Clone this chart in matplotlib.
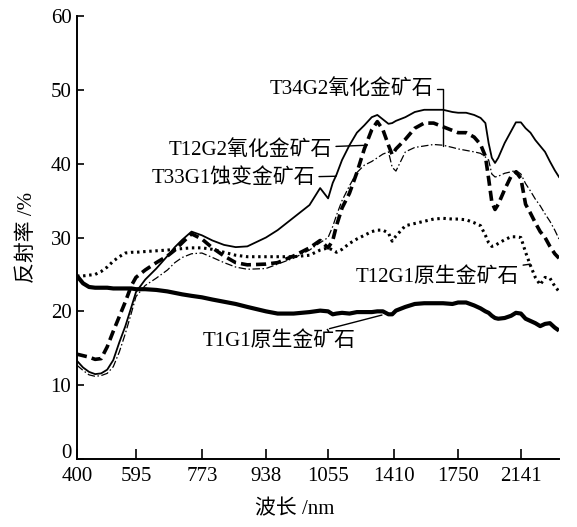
#!/usr/bin/env python3
# -*- coding: utf-8 -*-

import numpy as np
import matplotlib
matplotlib.use("Agg")
import matplotlib.pyplot as plt
import matplotlib.transforms as mtransforms

# wavelength grid (nm) shared by every curve
wavelength = [400, 420, 440, 460, 480, 500, 520, 540, 560, 580, 595,
              620, 650, 680, 700, 720, 745, 773,
              800, 830, 860, 890, 938,
              960, 990, 1020, 1040, 1055,
              1080, 1100, 1130, 1170, 1210, 1250, 1290, 1320, 1350, 1380, 1400,
              1420,
              1470, 1520, 1570, 1620, 1670, 1720, 1750,
              1800, 1850, 1890, 1920, 1940, 1960, 1980, 2000, 2040, 2080, 2110, 2141,
              2170, 2200, 2230, 2260, 2290, 2320, 2350, 2376]

# reflectance (%)
t33g1 = [13.3, 12.4, 11.8, 11.5, 11.6, 12.1, 13.4, 15.8, 18.0, 20.6, 22.6,
         24.3, 25.8, 27.5, 28.7, 29.7, 30.8, 30.3,
         29.6, 29.0, 28.7, 28.8, 30.0,
         31.0, 32.7, 34.4, 36.7, 35.3,
         37.4, 38.5, 40.5, 42.5, 44.2, 45.2, 46.3, 46.6, 46.0, 45.4, 45.5,
         45.8,
         46.3, 47.0, 47.3, 47.3, 47.3, 47.0, 46.9,
         46.9, 46.6, 46.2, 45.5, 42.8, 40.8, 40.1, 40.8, 42.8, 44.4, 45.6, 45.6,
         44.8, 44.2, 43.2, 42.4, 41.6, 40.3, 39.1, 38.2]

t12g2 = [14.2, 14.0, 13.8, 13.5, 13.6, 15.2, 17.3, 19.3, 21.3, 23.5, 24.6,
         25.6, 26.6, 27.5, 28.3, 29.3, 30.5, 29.8,
         28.6, 27.5, 26.6, 26.3, 26.4,
         26.6, 27.5, 28.6, 29.6, 28.6,
         29.6, 31.6, 34.0, 36.0, 38.8, 42.0, 44.6, 45.7, 44.6, 42.5, 41.2,
         42.0,
         43.3, 44.8, 45.5, 45.5, 45.0, 44.5, 44.2,
         44.2, 43.6, 42.6, 41.0, 38.0, 34.8, 33.8, 34.5, 36.5, 38.3, 38.9, 38.0,
         34.5, 33.3, 32.0, 30.8, 30.0, 28.8, 27.8, 27.2]

t34g2 = [12.7, 12.0, 11.4, 11.2, 11.3, 11.6, 12.5, 14.5, 17.0, 19.8, 22.0,
         23.5, 24.5, 25.6, 26.6, 27.3, 27.8, 27.9,
         27.3, 26.6, 26.0, 25.7, 25.8,
         26.4, 27.2, 28.3, 29.3, 30.0,
         31.5, 33.0, 35.0, 37.0, 38.8, 39.8, 40.3, 40.8, 41.3, 41.6, 39.5,
         39.0,
         41.6, 42.2, 42.4, 42.6, 42.5, 42.2, 42.0,
         41.8, 41.6, 41.4, 40.9, 40.5, 38.6, 38.2, 38.3, 38.7, 38.9, 39.1, 38.6,
         37.3, 36.3, 35.2, 34.3, 33.2, 32.2, 31.0, 29.8]

t12g1 = [24.8, 24.8, 24.9, 25.0, 25.4, 26.0, 26.8, 27.4, 27.9, 28.0, 28.0,
         28.1, 28.2, 28.3, 28.4, 28.5, 28.6, 28.6,
         28.4, 28.0, 27.6, 27.4, 27.4,
         27.4, 27.4, 27.6, 28.3, 28.6,
         28.3, 28.0, 28.4, 29.2, 29.8, 30.3, 30.8, 31.0, 31.0, 30.6, 29.5,
         30.2,
         31.6, 31.9, 32.2, 32.5, 32.6, 32.5, 32.5,
         32.4, 32.0, 31.6, 30.3, 29.3, 28.8, 28.9, 29.2, 29.7, 30.1, 30.1, 30.0,
         28.0, 26.2, 24.6, 23.6, 24.6, 24.5, 23.4, 22.7]

t1g1 = [24.8, 23.8, 23.3, 23.2, 23.2, 23.2, 23.1, 23.1, 23.1, 23.1, 23.0,
        23.0, 22.9, 22.7, 22.5, 22.3, 22.1, 21.9,
        21.6, 21.3, 21.0, 20.6, 20.0,
        19.7, 19.7, 19.9, 20.1, 20.0,
        19.6, 19.7, 19.8, 19.7, 19.9, 19.9, 19.9, 20.0, 20.0, 19.6, 19.6,
        20.1,
        20.6, 21.0, 21.1, 21.1, 21.1, 21.0, 21.2,
        21.2, 20.8, 20.4, 20.0, 19.8, 19.4, 19.1, 19.0, 19.1, 19.4, 19.8, 19.7,
        19.0, 18.7, 18.4, 18.0, 18.3, 18.4, 17.8, 17.4]

# the wavelength axis is not linear: ticks sit at (almost) equal spacing
tick_wl = [400, 595, 773, 938, 1055, 1410, 1750, 2141]
tick_pos = [0, 0.93, 1.97, 2.98, 3.96, 5.0, 6.01, 7.0]
scale_wl = tick_wl + [2532]
scale_pos = tick_pos + [8.0]

serif_cjk = ['Liberation Serif', 'Noto Sans CJK SC']


def fwd(x):
    return np.interp(x, scale_wl, scale_pos)


def inv(p):
    return np.interp(p, scale_pos, scale_wl)


def main():
    fig = plt.figure(figsize=(5.77, 5.27), dpi=100)
    ax = fig.add_axes([0.1334, 0.129, 0.8354, 0.8406])
    ax.set_xscale('function', functions=(fwd, inv))

    ax.plot(wavelength, t1g1, color='black', lw=3.0, solid_capstyle='butt')
    ax.plot(wavelength, t12g1, color='black', lw=2.2, linestyle=(0, (0.8, 1.2)))
    ax.plot(wavelength, t34g2, color='black', lw=0.9, linestyle=(0, (6, 2, 1.2, 2)))
    ax.plot(wavelength, t12g2, color='black', lw=2.6, linestyle=(0, (2.8, 1.4)))
    ax.plot(wavelength, t33g1, color='black', lw=1.3)

    ax.set_xlim(400, 2376)
    ax.set_ylim(0, 60)
    ax.set_xticks(tick_wl)
    ax.set_xticklabels([str(t) for t in tick_wl])
    ax.set_yticks([0, 10, 20, 30, 40, 50, 60])
    ax.xaxis.set_minor_locator(matplotlib.ticker.NullLocator())
    for lab in ax.get_xticklabels() + ax.get_yticklabels():
        lab.set_family('Liberation Serif')
        lab.set_fontsize(15)
    ax.tick_params(axis='x', direction='in', length=7, width=1.2, pad=6)
    ax.tick_params(axis='y', direction='in', length=5, width=1.2, pad=4)
    for side in ['top', 'right']:
        ax.spines[side].set_visible(False)
    for side in ['left', 'bottom']:
        ax.spines[side].set_linewidth(1.4)

    # the "0" sits a little above its tick, clear of the "400" below it
    zero = ax.yaxis.get_major_ticks()[0].label1
    zero.set_transform(zero.get_transform() +
                       mtransforms.ScaledTranslation(0, 6 / 72, fig.dpi_scale_trans))

    ax.set_ylabel('反射率 /%', family=serif_cjk, fontsize=15, labelpad=10)
    ax.set_xlabel('波长 /nm', family=serif_cjk, fontsize=15, labelpad=10, x=0.452)

    lead = dict(arrowstyle='-', color='black', lw=1.0, shrinkA=1, shrinkB=0)
    ax.annotate('T34G2氧化金矿石', xy=(1670, 42.4), xytext=(1617, 50.1),
                ha='right', va='center', family=serif_cjk, fontsize=15,
                arrowprops=dict(lead, connectionstyle='angle,angleA=0,angleB=90,rad=0'))
    ax.annotate('T12G2氧化金矿石', xy=(1265, 42.5), xytext=(1075, 41.9),
                ha='right', va='center', family=serif_cjk, fontsize=15,
                arrowprops=lead)
    ax.annotate('T33G1蚀变金矿石', xy=(1098, 38.3), xytext=(1030, 38.0),
                ha='right', va='center', family=serif_cjk, fontsize=15,
                arrowprops=lead)
    ax.annotate('T12G1原生金矿石', xy=(2200, 26.4), xytext=(2129, 24.6),
                ha='right', va='center', family=serif_cjk, fontsize=15,
                arrowprops=lead)
    ax.annotate('T1G1原生金矿石', xy=(1345, 19.5), xytext=(1205, 15.9),
                ha='right', va='center', family=serif_cjk, fontsize=15,
                arrowprops=lead)

    fig.savefig('out.png', dpi=100)


if __name__ == "__main__":
    main()
